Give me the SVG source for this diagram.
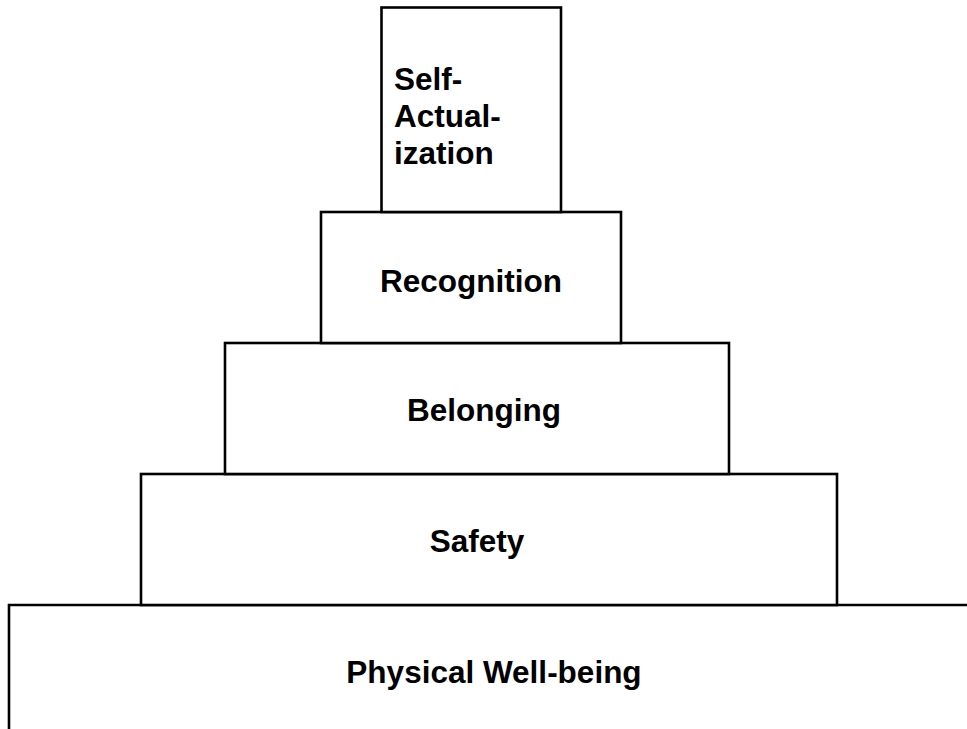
<svg xmlns="http://www.w3.org/2000/svg" width="967" height="729" viewBox="0 0 967 729">
<style>
.box{fill:#fff;stroke:#000;stroke-width:2.6}
.t{font-family:"Liberation Sans",Arial,sans-serif;font-weight:bold;font-size:31.5px;fill:#000}
.c{text-anchor:middle}
</style>
<rect width="967" height="729" fill="#fff"/>
<g id="physical">
<path class="box" d="M9,729 V605 H967" fill="none"/>
<text class="t c" x="494" y="683">Physical Well-being</text>
</g>
<g id="safety">
<rect class="box" x="141" y="474" width="696" height="131"/>
<text class="t c" x="477" y="552">Safety</text>
</g>
<g id="belonging">
<rect class="box" x="225" y="343" width="504" height="131"/>
<text class="t c" x="484" y="421">Belonging</text>
</g>
<g id="recognition">
<rect class="box" x="321" y="212" width="300" height="131"/>
<text class="t c" x="471" y="292">Recognition</text>
</g>
<g id="self-actualization">
<rect class="box" x="381.5" y="7.5" width="179.5" height="204.5"/>
<text class="t" x="394" y="90">Self-</text>
<text class="t" x="394" y="127">Actual-</text>
<text class="t" x="394" y="164">ization</text>
</g>
<g id="connectors"/>
</svg>
